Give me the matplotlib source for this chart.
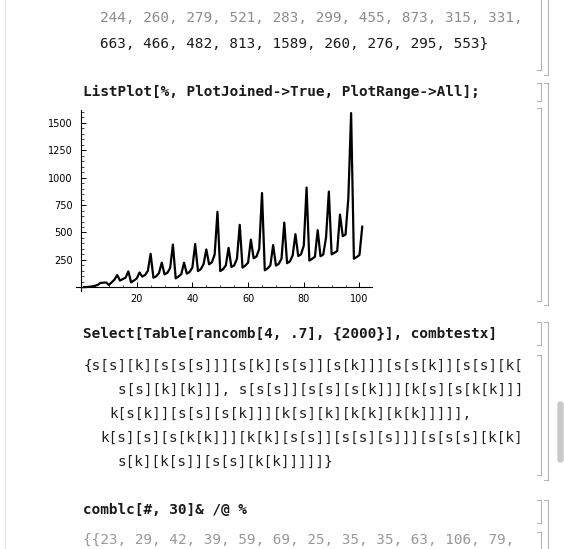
import matplotlib
matplotlib.use("Agg")
import matplotlib.pyplot as plt
from matplotlib.lines import Line2D
from matplotlib.patches import FancyBboxPatch

W, H = 564, 549

values = [1, 3, 5, 8, 14, 22, 40, 42, 44, 22,
          45, 70, 112, 62, 75, 88, 145, 45, 62, 80,
          135, 98, 112, 150, 305, 88, 100, 130, 225, 118,
          132, 175, 390, 82, 98, 120, 225, 125, 140, 180,
          395, 148, 165, 210, 345, 210, 228, 300, 688, 148,
          165, 200, 360, 185, 200, 260, 570, 180, 198, 225,
          435, 265, 280, 350, 860, 155, 172, 200, 385, 198,
          214, 260, 590, 220, 236, 290, 485, 285, 300, 380,
          910, 244, 260, 279, 521, 283, 299, 455, 873, 300,
          315, 331, 663, 466, 482, 813, 1589, 260, 276, 295,
          553]
xs = list(range(1, len(values) + 1))

x_ticks = [20, 40, 60, 80, 100]
y_ticks = [250, 500, 750, 1000, 1250, 1500]

top_lines = ["244, 260, 279, 521, 283, 299, 455, 873, 315, 331,",
             "663, 466, 482, 813, 1589, 260, 276, 295, 553}"]
in_plot = "ListPlot[%, PlotJoined->True, PlotRange->All];"
in_select = "Select[Table[rancomb[4, .7], {2000}], combtestx]"
out_select = ["{s[s][k][s[s[s]]][s[k][s[s]][s[k]]][s[s[k]][s[s][k[",
              "s[s][k][k]]], s[s[s]][s[s][s[k]]][k[s][s[k[k]]]",
              "k[s[k]][s[s][s[k]]][k[s][k][k[k][k[k]]]]],",
              "k[s][s][s[k[k]]][k[k][s[s]][s[s][s]]][s[s[s][k[k]",
              "s[k][k[s]][s[s][k[k]]]]]}"]
out_indent = [83, 118, 109, 100, 118]
in_comb = "comblc[#, 30]& /@ %"
out_comb = "{{23, 29, 42, 39, 59, 69, 25, 35, 35, 63, 106, 79,"

fig = plt.figure(figsize=(5.64, 5.49), dpi=100)
fig.patch.set_facecolor("white")

def fx(px):
    return px / W

def fy(py):
    return 1 - py / H

mono = "DejaVu Sans Mono"
fs = 10.4

def txt(x, y, s, color="#1a1a1a", weight="normal"):
    fig.text(fx(x), fy(y), s, family=mono, fontsize=fs, color=color,
             weight=weight, ha="left", va="center")

txt(100, 18, top_lines[0], color="#8c8c8c")
txt(100, 44, top_lines[1], color="#1a1a1a")
txt(83, 92, in_plot, weight="bold")
txt(83, 333, in_select, weight="bold")
for i, line in enumerate(out_select):
    txt(out_indent[i], 366 + 24 * i, line, color="#222222")
txt(83, 510, in_comb, weight="bold")
txt(83, 540, out_comb, color="#999999")

# the plot
ax = fig.add_axes([fx(76), fy(290.6), (372 - 76) / W, (290.6 - 109.7) / H])
ax.plot(xs, values, color="black", lw=1.6)
ax.set_xlim(-1.8, 104.5)
ax.set_ylim(-30, 1620)
ax.spines["left"].set_position(("data", 0))
ax.spines["bottom"].set_position(("data", 0))
ax.spines["top"].set_visible(False)
ax.spines["right"].set_visible(False)
for s in ["left", "bottom"]:
    ax.spines[s].set_linewidth(0.8)
ax.set_xticks(x_ticks)
ax.set_yticks(y_ticks)
ax.set_xticks(range(5, 105, 5), minor=True)
ax.set_yticks(range(50, 1620, 50), minor=True)
ax.tick_params(which="major", direction="in", length=3.5, width=0.7,
               labelsize=7, colors="black")
ax.tick_params(which="minor", direction="in", length=1.8, width=0.5)
ax.tick_params(axis="y", pad=6)
ax.tick_params(axis="x", pad=5)
ax.patch.set_alpha(0)

# cell brackets
def bracket(x, y0, y1, top=True, bottom=True):
    c = "#b4b4b4"
    fig.add_artist(Line2D([fx(x), fx(x)], [fy(y0), fy(y1)], color=c, lw=0.8))
    if top:
        fig.add_artist(Line2D([fx(x - 4), fx(x)], [fy(y0), fy(y0)], color=c, lw=0.8))
    if bottom:
        fig.add_artist(Line2D([fx(x - 4), fx(x)], [fy(y1), fy(y1)], color=c, lw=0.8))

bracket(541, -2, 70, top=False)
bracket(548, -2, 75, top=False)
bracket(541, 83, 101)
bracket(541, 108, 301)
bracket(548, 83, 305)
bracket(541, 322, 345)
bracket(541, 355, 475)
bracket(548, 322, 480)
bracket(541, 500, 523)
bracket(541, 532, 552, bottom=False)
bracket(548, 500, 552, bottom=False)

# left margin line and scrollbar
fig.add_artist(Line2D([fx(5), fx(5)], [0, 1], color="#e4e4e4", lw=0.8))
fig.add_artist(FancyBboxPatch((fx(558), fy(462)), fx(5), 60 / H,
                              boxstyle="round,pad=0,rounding_size=0.004",
                              transform=fig.transFigure, color="#c9c9c9"))

fig.savefig("out.png", dpi=100, facecolor="white")
